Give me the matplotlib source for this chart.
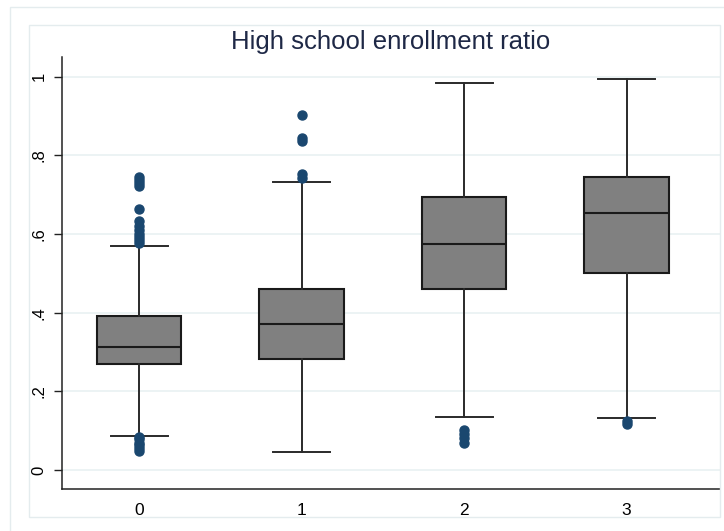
import matplotlib
matplotlib.use("Agg")
import matplotlib.pyplot as plt
from matplotlib.patches import Rectangle

plt.rcParams["font.family"] = ["Liberation Sans", "DejaVu Sans"]

# box summaries per group (read as enrollment ratio)
groups = ["0", "1", "2", "3"]
q1 = [0.270, 0.282, 0.461, 0.502]
med = [0.312, 0.371, 0.575, 0.653]
q3 = [0.392, 0.461, 0.695, 0.744]
whislo = [0.087, 0.047, 0.135, 0.133]
whishi = [0.570, 0.733, 0.985, 0.993]
fliers = [
    [0.745, 0.738, 0.730, 0.722, 0.663, 0.632, 0.620, 0.610, 0.600, 0.592, 0.585, 0.578,
     0.085, 0.078, 0.070, 0.063, 0.056, 0.049],
    [0.903, 0.843, 0.836, 0.753, 0.742],
    [0.103, 0.093, 0.082, 0.070],
    [0.126, 0.117],
]
yticks = [0, 0.2, 0.4, 0.6, 0.8, 1.0]
ylabels = ["0", ".2", ".4", ".6", ".8", "1"]

navy = "#1a476f"
grid_c = "#e9f1f2"

fig = plt.figure(figsize=(7.24, 5.31), dpi=100)
W, H = 724, 531

# outer graph region and inner plot region frames
fig.add_artist(Rectangle((10 / W, -0.1), 1.2, (H - 7) / H + 0.1, transform=fig.transFigure,
                         fill=False, ec="#e4ecee", lw=1.0))
fig.add_artist(Rectangle((29 / W, 1 - 517 / H), (720 - 29) / W, (517 - 25) / H,
                         transform=fig.transFigure, fill=False, ec="#e4ecee", lw=1.0))

ax = fig.add_axes([62 / W, 1 - 489 / H, (720 - 62) / W, (489 - 57) / H])

stats = []
for i in range(len(groups)):
    stats.append(dict(med=med[i], q1=q1[i], q3=q3[i], whislo=whislo[i], whishi=whishi[i],
                      fliers=fliers[i], label=groups[i]))

ax.bxp(stats, positions=range(len(groups)), widths=0.52, patch_artist=True,
       boxprops=dict(facecolor="#808080", edgecolor="#1a1a1a", linewidth=1.5),
       medianprops=dict(color="#1a1a1a", linewidth=1.5),
       whiskerprops=dict(color="#2a2a2a", linewidth=1.4),
       capprops=dict(color="#2a2a2a", linewidth=1.4),
       capwidths=0.35,
       flierprops=dict(marker="o", markerfacecolor=navy, markeredgecolor=navy, markersize=6.5))

ax.set_xlim(-0.475, 3.575)
ax.set_ylim(-0.048, 1.05)
ax.set_yticks(yticks)
ax.set_yticklabels(ylabels, rotation=90, va="center", fontsize=12)
ax.tick_params(axis="x", length=0, labelsize=12.5, pad=10)
ax.tick_params(axis="y", length=6, width=1, pad=5, color="#222222")
for y in yticks:
    ax.axhline(y, color=grid_c, lw=1.2, zorder=0)

for s in ("top", "right"):
    ax.spines[s].set_visible(False)
for s in ("left", "bottom"):
    ax.spines[s].set_linewidth(1.1)
    ax.spines[s].set_color("#222222")

fig.text((62 + 720) / 2 / W, 1 - 42 / H, "High school enrollment ratio",
         ha="center", va="center", fontsize=18.5, color="#1e2846")

fig.savefig("out.png", dpi=100)
